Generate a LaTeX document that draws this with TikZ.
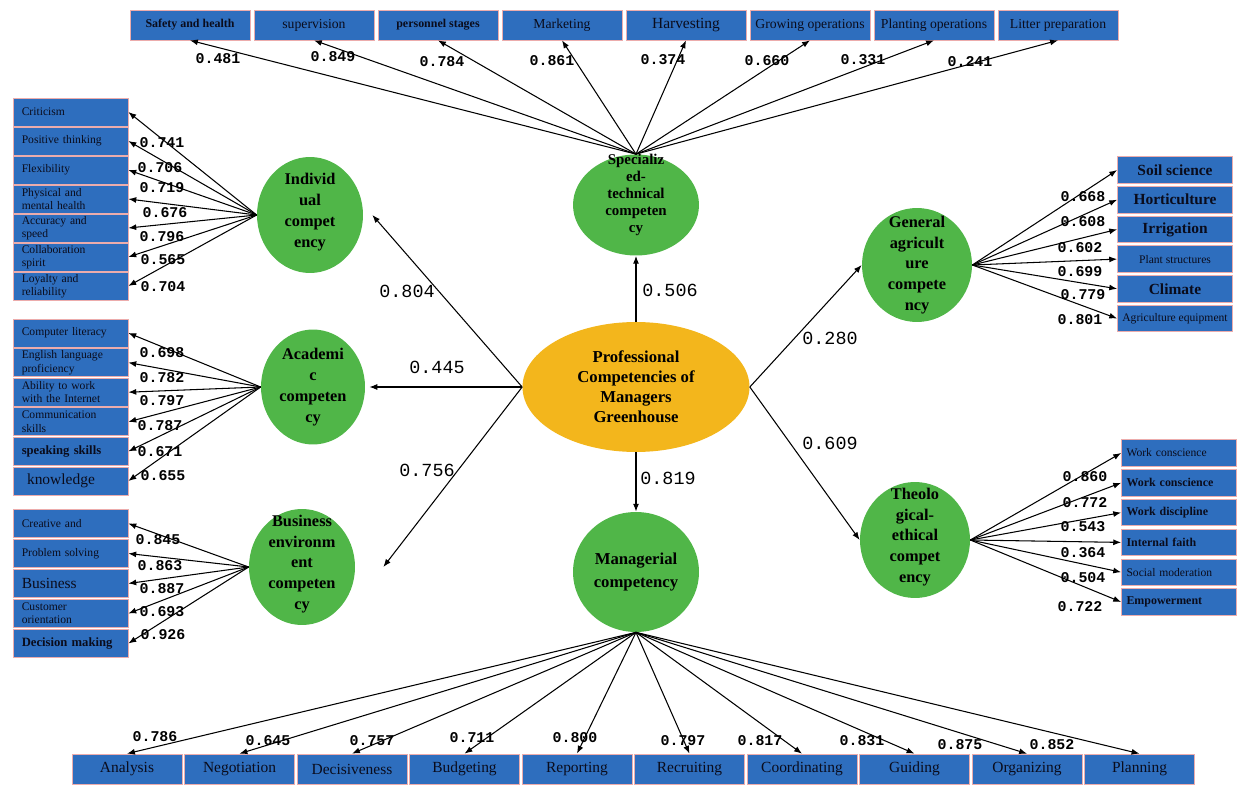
\documentclass[tikz,border=0pt]{standalone}
\usepackage{fontspec}
\setmainfont{Liberation Serif}
\setmonofont{Liberation Mono}
\usetikzlibrary{shapes.geometric,arrows.meta}

\definecolor{boxblue}{RGB}{46,110,190}
\definecolor{boxline}{RGB}{236,172,172}
\definecolor{boxtext}{RGB}{10,12,28}
\definecolor{compgreen}{RGB}{80,182,72}
\definecolor{coreorange}{RGB}{243,182,28}

% box text sizes
\newcommand\bxs{\fontsize{6.6}{7.6}\selectfont}
\newcommand\bxsb{\fontsize{6.8}{7.6}\selectfont\bfseries}
\newcommand\bxm{\fontsize{7.8}{8.6}\selectfont}
\newcommand\bxmb{\fontsize{7.2}{8}\selectfont\bfseries}
\newcommand\bxl{\fontsize{8.8}{9.6}\selectfont}
\newcommand\bxlb{\fontsize{8.8}{9.6}\selectfont\bfseries}

\tikzset{
  measure/.style={draw=boxline, line width=0.4pt, fill=boxblue, text=boxtext,
                  execute at begin node=\color{boxtext}, inner sep=1pt},
  measureL/.style={measure, minimum width=2.3cm, minimum height=0.56cm, text width=1.95cm, align=left},
  measureT/.style={measure, minimum width=2.4cm, minimum height=0.6cm, align=center},
  measureR/.style={measure, minimum width=2.3cm, minimum height=0.53cm, align=center},
  measureE/.style={measure, minimum width=2.3cm, minimum height=0.53cm, text width=2.1cm, align=left},
  measureB/.style={measure, minimum width=2.2cm, minimum height=0.6cm, font=\bxl},
  comp/.style={ellipse, fill=compgreen, inner sep=0pt},
  comptext/.style={align=center, text=black, font=\fontsize{9.3}{11.8}\selectfont\bfseries},
  core/.style={ellipse, fill=coreorange, inner sep=0pt, minimum width=4.54cm, minimum height=2.6cm},
  load/.style={font=\ttfamily\bfseries\fontsize{8.5}{9}\selectfont, inner sep=0pt},
  coef/.style={font=\ttfamily\fontsize{10.5}{11}\selectfont, inner sep=0pt},
  link/.style={->, >={Latex[length=4.5pt,width=3.4pt]}, line width=0.6pt}
}

\begin{document}
\begin{tikzpicture}[x=0.02cm, y=-0.02cm]
  \useasboundingbox (0,0) rectangle (1241,807);

  % latent variables
  \node[core, label={[comptext, font=\fontsize{9.5}{11.3}\selectfont\bfseries]center:{Professional\\Competencies of\\Managers\\Greenhouse}}] (pcm) at (636,387) {};
  \node[comp, minimum width=2.52cm, minimum height=2.02cm,
        label={[comptext, yshift=0.2cm, font=\fontsize{8.5}{9.6}\selectfont\bfseries]center:{Specializ\\ed-\\technical\\competen\\cy}}] (spec) at (636,205) {};
  \node[comp, minimum width=2.52cm, minimum height=2.4cm,
        label={[comptext, font=\fontsize{9.5}{13.5}\selectfont\bfseries]center:{Managerial\\competency}}] (mgr) at (636,572) {};
  \node[comp, minimum width=2.12cm, minimum height=2.32cm,
        label={[comptext, yshift=0.06cm]center:{Individ\\ual\\compet\\ency}}] (ind) at (310,215) {};
  \node[comp, minimum width=2.08cm, minimum height=2.3cm,
        label={[comptext]center:{Academi\\c\\competen\\cy}}] (acad) at (313,387) {};
  \node[comp, minimum width=2.12cm, minimum height=2.32cm,
        label={[comptext, yshift=0.06cm]center:{Business\\environm\\ent\\competen\\cy}}] (bus) at (302,567) {};
  \node[comp, minimum width=2.2cm, minimum height=2.28cm,
        label={[comptext]center:{General\\agricult\\ure\\compete\\ncy}}] (gen) at (917,265) {};
  \node[comp, minimum width=2.2cm, minimum height=2.32cm,
        label={[comptext, yshift=0.06cm]center:{Theolo\\gical-\\ethical\\compet\\ency}}] (theo) at (915,540) {};

  % structural paths
  \draw[link] (pcm.west) -- ([xshift=0.18cm]ind.east);
  \draw[link] (pcm.west) -- ([xshift=0.08cm]acad.east);
  \draw[link] (pcm.west) -- ([xshift=0.56cm]bus.east);
  \draw[link] (pcm.north) -- (spec.south);
  \draw[link] (pcm.south) -- (mgr.north);
  \draw[link] (pcm.east) -- (gen.west);
  \draw[link] (pcm.east) -- (theo.west);
  \foreach \x/\y/\v in {407/291/0.804, 437/367/0.445, 427/470/0.756, 670/290/0.506,
                        668/478/0.819, 830/338/0.280, 830/443/0.609}
    \node[coef] at (\x,\y) {\v};

  % specialized-technical indicators
  \foreach \i/\lbl/\f in {1/Safety and health/\bxsb, 2/supervision/\bxm, 3/personnel stages/\bxsb,
                        4/Marketing/\bxm, 5/Harvesting/\bxl, 6/Growing operations/\bxm,
                        7/Planting operations/\bxm, 8/Litter preparation/\bxm} {
    \node[measureT, font=\f] (t\i) at ({190+124*(\i-1)},25) {\lbl};
    \draw[link] (spec.north) -- (t\i.south);
  }
  \foreach \x/\y/\v in {218/59/0.481, 333/57/0.849, 442/62/0.784, 552/61/0.861,
                        663/60/0.374, 767/61/0.660, 863/60/0.331, 970/62/0.241}
    \node[load] at (\x,\y) {\v};

  % individual indicators
  \foreach \i/\lbl/\f in {1/Criticism/\bxs, 2/Positive thinking/\bxs, 3/Flexibility/\bxs,
                        4/{Physical and\\mental health}/\bxs, 5/{Accuracy and\\speed}/\bxs,
                        6/{Collaboration\\spirit}/\bxs, 7/{Loyalty and\\reliability}/\bxs} {
    \node[measureL, font=\f] (i\i) at (70.5,{112+29*(\i-1)}) {\lbl};
    \draw[link] (ind.west) -- (i\i.east);
  }
  \foreach \x/\y/\v in {162/143/0.741, 160/168/0.706, 162/188/0.719, 165/213/0.676,
                        162/237/0.796, 163/260/0.565, 163/287/0.704}
    \node[load] at (\x,\y) {\v};

  % academic indicators
  \foreach \i/\lbl/\f in {1/Computer literacy/\bxs, 2/{English language\\proficiency}/\bxs,
                        3/{Ability to work\\with the Internet}/\bxs, 4/{Communication\\skills}/\bxs,
                        5/speaking skills/\bxmb, 6/\hspace{3pt}knowledge/\bxl} {
    \node[measureL, font=\f] (a\i) at (70.5,{333+29.6*(\i-1)}) {\lbl};
    \draw[link] (acad.west) -- (a\i.east);
  }
  \foreach \x/\y/\v in {162/353/0.698, 162/378/0.782, 162/401/0.797, 160/426/0.787,
                        160/452/0.671, 163/476/0.655}
    \node[load] at (\x,\y) {\v};

  % business environment indicators
  \foreach \i/\lbl/\f in {1/Creative and/\bxs, 2/Problem solving/\bxs, 3/Business/\bxl,
                        4/{Customer\\orientation}/\bxs, 5/Decision making/\bxmb} {
    \node[measureL, font=\f] (s\i) at (70.5,{523.5+30*(\i-1)}) {\lbl};
    \draw[link] (bus.west) -- (s\i.east);
  }
  \foreach \x/\y/\v in {158/540/0.845, 160/566/0.863, 162/589/0.887, 162/612/0.693, 163/635/0.926}
    \node[load] at (\x,\y) {\v};

  % general agriculture indicators
  \foreach \i/\lbl/\f in {1/Soil science/\bxlb, 2/Horticulture/\bxlb, 3/Irrigation/\bxlb,
                        4/Plant structures/\bxs, 5/Climate/\bxlb, 6/Agriculture equipment/\bxs} {
    \node[measureR, font=\f] (g\i) at (1175,{170+29.7*(\i-1)}) {\lbl};
    \draw[link] (gen.east) -- (g\i.west);
  }
  \foreach \x/\y/\v in {1083/197/0.668, 1083/222/0.608, 1080/248/0.602, 1080/272/0.699,
                        1083/295/0.779, 1080/320/0.801}
    \node[load] at (\x,\y) {\v};

  % theological-ethical indicators
  \foreach \i/\lbl/\f in {1/Work conscience/\bxs, 2/Work conscience/\bxsb, 3/Work discipline/\bxsb,
                        4/Internal faith/\bxsb, 5/Social moderation/\bxs, 6/Empowerment/\bxsb} {
    \node[measureE, font=\f] (e\i) at (1179,{453+29.8*(\i-1)}) {\lbl};
    \draw[link] (theo.east) -- (e\i.west);
  }
  \foreach \x/\y/\v in {1085/477/0.860, 1085/503/0.772, 1083/527/0.543, 1083/553/0.364,
                        1083/578/0.504, 1080/607/0.722}
    \node[load] at (\x,\y) {\v};

  % managerial indicators
  \foreach \i/\lbl in {1/Analysis, 2/Negotiation, 3/Decisiveness, 4/Budgeting, 5/Reporting,
                     6/Recruiting, 7/Coordinating, 8/Guiding, 9/Organizing, 10/Planning} {
    \node[measureB] (b\i) at ({127+112.5*(\i-1)},769) {\lbl};
    \draw[link] (mgr.south) -- (b\i.north);
  }
  \foreach \x/\y/\v in {155/737/0.786, 268/741/0.645, 372/741/0.757, 472/738/0.711,
                        575/738/0.800, 683/741/0.797, 760/741/0.817, 862/741/0.831,
                        960/745/0.875, 1052/745/0.852}
    \node[load] at (\x,\y) {\v};
\end{tikzpicture}
\end{document}
